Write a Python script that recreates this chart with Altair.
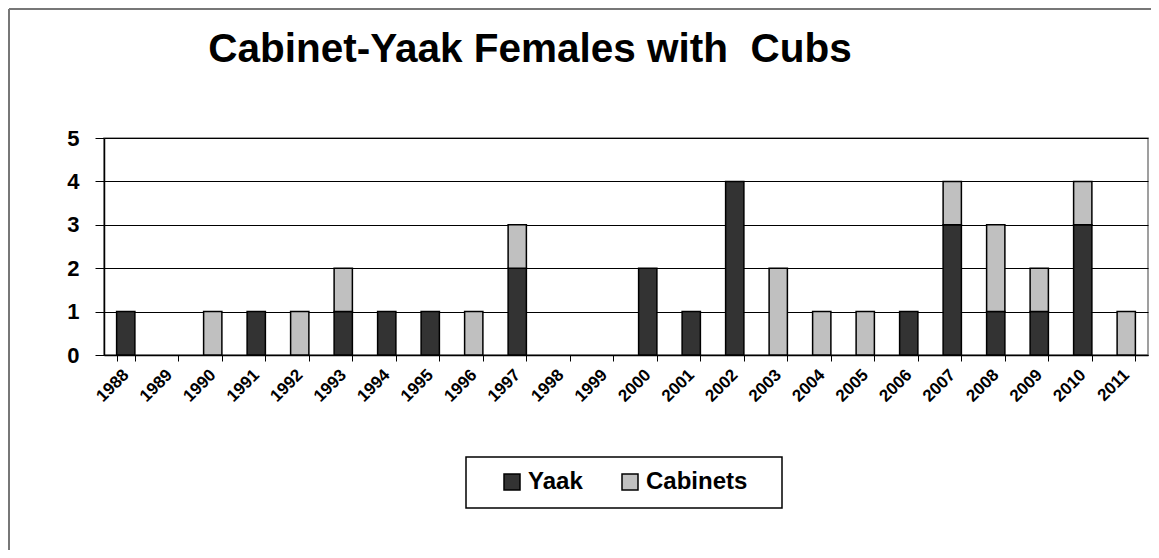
import altair as alt
import pandas as pd

years = [str(y) for y in range(1988, 2012)]
yaak = [1, 0, 0, 1, 0, 1, 1, 1, 0, 2, 0, 0, 2, 1, 4, 0, 0, 0, 1, 3, 1, 1, 3, 0]
cabinets = [0, 0, 1, 0, 1, 1, 0, 0, 1, 1, 0, 0, 0, 0, 0, 2, 1, 1, 0, 1, 2, 1, 1, 1]
series = ["Yaak", "Cabinets"]
colors = ["#333333", "#c0c0c0"]
title_text = "Cabinet-Yaak Females with \u00a0Cubs"

rows = []
for i, yr in enumerate(years):
    rows.append({"year": yr, "series": "Yaak", "order": 0, "value": yaak[i]})
    rows.append({"year": yr, "series": "Cabinets", "order": 1, "value": cabinets[i]})
df = pd.DataFrame(rows)
df = df[df["value"] > 0]

FONT = "Liberation Sans"
W, H = 1044, 217

bars = alt.Chart(df).mark_bar(stroke="black", strokeWidth=1.5).encode(
    x=alt.X("year:N", sort=years,
            scale=alt.Scale(domain=years, paddingInner=0.58, paddingOuter=0.29),
            axis=alt.Axis(title=None, labelAngle=-45, labelAlign="right",
                          labelBaseline="middle", labelFont=FONT, labelFontSize=17,
                          labelFontWeight="bold", labelColor="black", labelPadding=11,
                          tickBand="extent", tickColor="black", tickSize=6,
                          domainColor="black", domainWidth=1.5, grid=False)),
    y=alt.Y("value:Q", stack="zero",
            scale=alt.Scale(domain=[0, 5], nice=False),
            axis=alt.Axis(title=None, values=[0, 1, 2, 3, 4, 5], labelFont=FONT,
                          labelFontSize=22, labelFontWeight="bold", labelColor="black",
                          labelPadding=16, tickSize=9, tickColor="black",
                          domainColor="black", domainWidth=1.5,
                          grid=True, gridColor="black", gridWidth=1)),
    color=alt.Color("series:N",
                    scale=alt.Scale(domain=series, range=colors),
                    legend=alt.Legend(title=None, orient="none", legendX=362, legendY=319,
                                      direction="horizontal", symbolType="square",
                                      symbolSize=256, symbolStrokeColor="black",
                                      symbolStrokeWidth=1.5, symbolOffset=21,
                                      labelFont=FONT, labelFontSize=24,
                                      labelFontWeight="bold", labelColor="black",
                                      columnPadding=14, labelOffset=4, padding=13)),
    order=alt.Order("order:Q"),
)

one = pd.DataFrame({"t": [title_text]})
title = alt.Chart(one).mark_text(font=FONT, fontSize=40.5, fontWeight="bold", color="black",
                                 align="center", baseline="alphabetic").encode(
    text="t:N", x=alt.value(426), y=alt.value(-76)
)

legend_box = alt.Chart(one).mark_rect(fill="white", stroke="black", strokeWidth=1.5).encode(
    x=alt.value(362), x2=alt.value(678), y=alt.value(319), y2=alt.value(370)
)

border = alt.Chart(one).mark_rule(color="#777777", strokeWidth=2).encode(
    x=alt.value(-95), x2=alt.value(W + 200), y=alt.value(-129), y2=alt.value(-129)
)
border_left = alt.Chart(one).mark_rule(color="#777777", strokeWidth=2).encode(
    x=alt.value(-95), x2=alt.value(-95), y=alt.value(-129), y2=alt.value(H + 300)
)

chart = alt.layer(bars, legend_box, title, border, border_left).properties(
    width=W, height=H,
    autosize=alt.AutoSizeParams(type="none"),
    padding={"left": 96, "top": 130, "right": 1143 - 96 - W, "bottom": 542 - 130 - H},
).configure_view(stroke="#808080", strokeWidth=1.5)

chart.save("out.html", embed_options={"renderer": "svg", "actions": False})
